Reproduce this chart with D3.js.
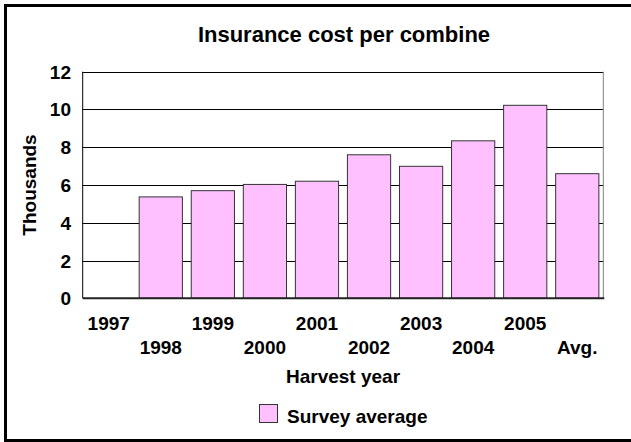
<!DOCTYPE html>
<html>
<head>
<meta charset="utf-8">
<script src="https://cdn.jsdelivr.net/npm/d3@7"></script>
<style>
    body { margin: 0; background: #fff; }
    svg text { font-family: Arial, "Liberation Sans", sans-serif; font-weight: bold; fill: #000; }
</style>
</head>
<body>
<div id="chart"></div>
<script>
// data
const years = ["1997", "1998", "1999", "2000", "2001", "2002", "2003", "2004", "2005", "Avg."];
const surveyAverage = [0, 5.37, 5.70, 6.03, 6.20, 7.60, 6.99, 8.34, 10.22, 6.60];
const yTicks = [0, 2, 4, 6, 8, 10, 12];
const seriesName = "Survey average";

const width = 631, height = 442;
const plot = { left: 82.7, right: 603.3, top: 71.7, bottom: 298.3 };

const svg = d3.select("#chart").append("svg")
    .attr("width", width)
    .attr("height", height);

// outer frame (right edge runs off the picture)
svg.append("rect")
    .attr("x", 5.5).attr("y", 5.5)
    .attr("width", 640).attr("height", 435)
    .attr("fill", "#fff")
    .attr("stroke", "#000")
    .attr("stroke-width", 3);

const x = d3.scaleBand()
    .domain(years)
    .range([plot.left, plot.right])
    .paddingInner(0.17)
    .paddingOuter(0.085);

const y = d3.scaleLinear()
    .domain([0, 12])
    .range([plot.bottom, plot.top]);

// title
svg.append("text")
    .attr("x", 344).attr("y", 41.5)
    .attr("text-anchor", "middle")
    .style("font-size", "22px")
    .text("Insurance cost per combine");

// gridlines
svg.append("g").selectAll("line")
    .data(yTicks.filter(d => d > 0))
    .enter().append("line")
    .attr("x1", plot.left).attr("x2", plot.right)
    .attr("y1", d => Math.round(y(d)) + 0.5)
    .attr("y2", d => Math.round(y(d)) + 0.5)
    .attr("stroke", "#000")
    .attr("stroke-width", 1);

// plot border (left / right)
svg.append("line")
    .attr("x1", plot.left).attr("x2", plot.left)
    .attr("y1", plot.top).attr("y2", plot.bottom)
    .attr("stroke", "#000");
svg.append("line")
    .attr("x1", plot.right).attr("x2", plot.right)
    .attr("y1", plot.top).attr("y2", plot.bottom)
    .attr("stroke", "#808080");

// bars
svg.append("g").selectAll("rect")
    .data(surveyAverage)
    .enter().append("rect")
    .attr("x", (d, i) => x(years[i]))
    .attr("y", d => y(d))
    .attr("width", x.bandwidth())
    .attr("height", d => y(0) - y(d))
    .attr("fill", "#ffc0ff")
    .attr("stroke", "#333")
    .attr("stroke-width", 1);

// x axis line
svg.append("line")
    .attr("x1", plot.left).attr("x2", plot.right + 1)
    .attr("y1", plot.bottom).attr("y2", plot.bottom)
    .attr("stroke", "#222")
    .attr("stroke-width", 2);

// y tick labels
svg.append("g").selectAll("text")
    .data(yTicks)
    .enter().append("text")
    .attr("x", 71)
    .attr("y", d => y(d))
    .attr("dy", "0.37em")
    .attr("text-anchor", "end")
    .style("font-size", "19px")
    .text(d => d);

// x tick labels, staggered
svg.append("g").selectAll("text")
    .data(years)
    .enter().append("text")
    .attr("x", d => x(d) + x.bandwidth() / 2)
    .attr("y", (d, i) => i % 2 === 0 ? 330 : 353.5)
    .attr("text-anchor", "middle")
    .style("font-size", "19px")
    .text(d => d);

// axis titles
svg.append("text")
    .attr("x", 343).attr("y", 383)
    .attr("text-anchor", "middle")
    .style("font-size", "19px")
    .text("Harvest year");

svg.append("text")
    .attr("transform", "translate(35.5,185) rotate(-90)")
    .attr("text-anchor", "middle")
    .style("font-size", "19px")
    .text("Thousands");

// legend
const legend = svg.append("g");
legend.append("rect")
    .attr("x", 259.5).attr("y", 404.5)
    .attr("width", 18).attr("height", 18)
    .attr("fill", "#ffc0ff")
    .attr("stroke", "#333");
legend.append("text")
    .attr("x", 287).attr("y", 422.5)
    .style("font-size", "19px")
    .text(seriesName);
</script>
</body>
</html>
